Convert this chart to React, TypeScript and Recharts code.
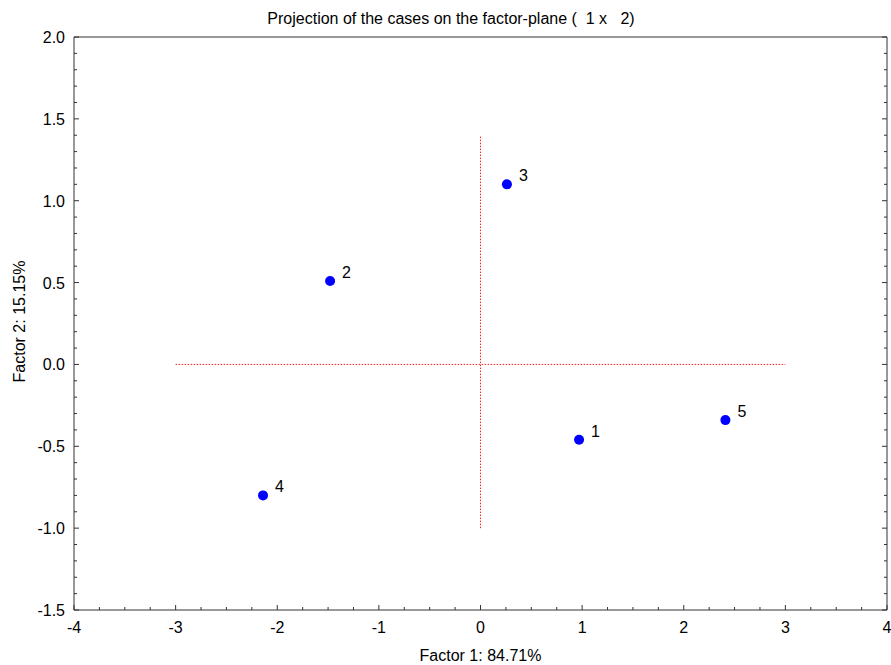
import { ScatterChart, Scatter, XAxis, YAxis, ReferenceLine, Label } from 'recharts';

// cases projected on factor plane (1 x 2)
const caseIds = ['1', '2', '3', '4', '5'];
const factor1 = [0.97, -1.48, 0.26, -2.14, 2.41];
const factor2 = [-0.46, 0.51, 1.1, -0.8, -0.34];

const xMajorTicks = [-4, -3, -2, -1, 0, 1, 2, 3, 4];
const yMajorTicks = [-1.5, -1.0, -0.5, 0.0, 0.5, 1.0, 1.5, 2.0];
const xMinorStep = 0.25;
const yMinorStep = 0.1;

// dotted cross through the origin
const hCrossX = [-3, 3];
const vCrossY = [-1.0, 1.4];

const FONT = '"Liberation Sans", Arial, sans-serif';
const FS = 16;
const AXIS = '#333';

function steps(from: number, to: number, step: number) {
  const out: number[] = [];
  const n = Math.round((to - from) / step);
  for (let i = 0; i <= n; i++) out.push(Math.round((from + i * step) * 1000) / 1000);
  return out;
}

const xTicks = steps(xMajorTicks[0], xMajorTicks[xMajorTicks.length - 1], xMinorStep);
const yTicks = steps(yMajorTicks[0], yMajorTicks[yMajorTicks.length - 1], yMinorStep);

const isMajor = (v: number, majors: number[]) => majors.some((m) => Math.abs(m - v) < 1e-6);

const data = caseIds.map((id, i) => ({ id, x: factor1[i], y: factor2[i] }));

const XTick = ({ x, y, payload, side }: any) => {
  const v = payload.value;
  const major = isMajor(v, xMajorTicks);
  const len = major ? 5 : 3;
  const dir = side === 'bottom' ? -1 : 1;
  return (
    <g>
      <line x1={x} y1={y} x2={x} y2={y + dir * len} stroke={AXIS} />
      {side === 'bottom' && major && (
        <text x={x} y={y + 23} textAnchor="middle" fontSize={FS} fontFamily={FONT} fill="#000">
          {v}
        </text>
      )}
    </g>
  );
};

const YTick = ({ x, y, payload, side }: any) => {
  const v = payload.value;
  const major = isMajor(v, yMajorTicks);
  const len = major ? 5 : 3;
  const dir = side === 'left' ? 1 : -1;
  return (
    <g>
      <line x1={x} y1={y} x2={x + dir * len} y2={y} stroke={AXIS} />
      {side === 'left' && major && (
        <text x={x - 9} y={y + 6} textAnchor="end" fontSize={FS} fontFamily={FONT} fill="#000">
          {v.toFixed(1)}
        </text>
      )}
    </g>
  );
};

const CasePoint = (p: any) => (
  <g>
    <circle cx={p.cx} cy={p.cy} r={5} fill="#0000ff" />
    <text x={p.cx + 12} y={p.cy - 3} fontSize={FS} fontFamily={FONT} fill="#000">
      {p.payload.id}
    </text>
  </g>
);

export default function App() {
  return (
    <div style={{ position: 'absolute', left: 0, top: 0, width: 891, height: 665, background: '#fff' }}>
      <div
        style={{
          position: 'absolute',
          left: 0,
          top: 10,
          width: 902,
          textAlign: 'center',
          fontFamily: FONT,
          fontSize: FS,
          whiteSpace: 'pre',
          color: '#000',
        }}
      >
        {'Projection of the cases on the factor-plane (  1 x   2)'}
      </div>
      <ScatterChart width={891} height={665} margin={{ top: 36, right: 3, bottom: 15, left: 14 }}>
        <XAxis
          dataKey="x"
          type="number"
          domain={[-4, 4]}
          ticks={xTicks}
          interval={0}
          allowDataOverflow
          height={40}
          tickSize={0}
          tickMargin={0}
          tickLine={false}
          stroke={AXIS}
          tick={<XTick side="bottom" />}
        >
          <Label
            content={({ viewBox }: any) => (
              <text
                x={viewBox.x + viewBox.width / 2}
                y={viewBox.y + 51}
                textAnchor="middle"
                fontSize={FS}
                fontFamily={FONT}
                fill="#000"
              >
                Factor 1: 84.71%
              </text>
            )}
          />
        </XAxis>
        <XAxis
          xAxisId="top"
          orientation="top"
          type="number"
          domain={[-4, 4]}
          ticks={xTicks}
          interval={0}
          allowDataOverflow
          height={1}
          tickSize={0}
          tickMargin={0}
          tickLine={false}
          stroke={AXIS}
          tick={<XTick side="top" />}
        />
        <YAxis
          dataKey="y"
          type="number"
          domain={[-1.5, 2]}
          ticks={yTicks}
          interval={0}
          allowDataOverflow
          width={60}
          tickSize={0}
          tickMargin={0}
          tickLine={false}
          stroke={AXIS}
          tick={<YTick side="left" />}
        >
          <Label
            content={({ viewBox }: any) => {
              const cx = viewBox.x + 5;
              const cy = viewBox.y + viewBox.height / 2 - 2;
              return (
                <text
                  x={cx}
                  y={cy}
                  transform={`rotate(-90 ${cx} ${cy})`}
                  textAnchor="middle"
                  dominantBaseline="central"
                  fontSize={FS}
                  fontFamily={FONT}
                  fill="#000"
                >
                  Factor 2: 15.15%
                </text>
              );
            }}
          />
        </YAxis>
        <YAxis
          yAxisId="right"
          orientation="right"
          type="number"
          domain={[-1.5, 2]}
          ticks={yTicks}
          interval={0}
          allowDataOverflow
          width={1}
          tickSize={0}
          tickMargin={0}
          tickLine={false}
          stroke={AXIS}
          tick={<YTick side="right" />}
        />
        <ReferenceLine
          segment={[
            { x: hCrossX[0], y: 0 },
            { x: hCrossX[1], y: 0 },
          ]}
          stroke="#ff2020"
          strokeDasharray="1.5 1.5"
        />
        <ReferenceLine
          segment={[
            { x: 0, y: vCrossY[0] },
            { x: 0, y: vCrossY[1] },
          ]}
          stroke="#ff2020"
          strokeDasharray="1.5 1.5"
        />
        <Scatter data={data} shape={<CasePoint />} isAnimationActive={false} />
      </ScatterChart>
    </div>
  );
}
